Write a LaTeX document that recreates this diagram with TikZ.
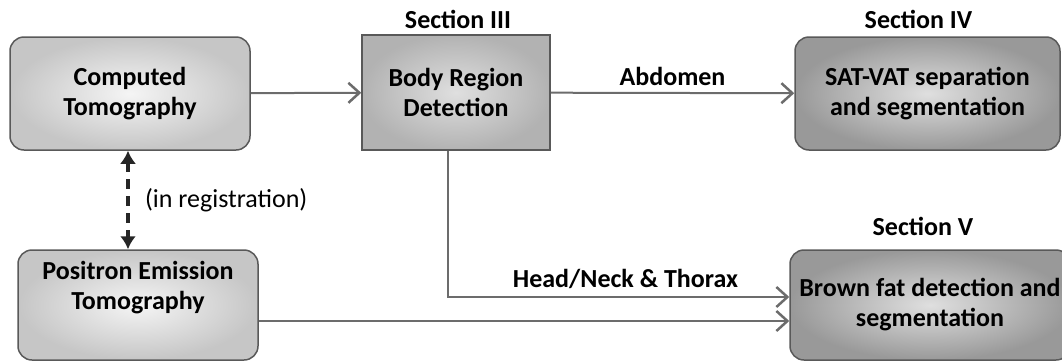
\documentclass[tikz,border=0pt]{standalone}
\usepackage{fontspec}
\setmainfont{Carlito}
\usetikzlibrary{arrows.meta}
\usetikzlibrary{positioning}

\begin{document}
\begin{tikzpicture}[
    x=1pt, y=-1pt,
    font=\fontsize{26}{30}\selectfont\bfseries,
    flow/.style={draw=gray!85!black, line width=2pt,
        -{Straight Barb[length=11pt, width=20pt, line width=2.5pt]}},
    reg/.style={draw=black!85, line width=3.5pt, dash pattern=on 10pt off 7pt,
        {Latex[length=13pt, width=16pt]}-{Latex[length=13pt, width=16pt]}},
    box/.style={rectangle, draw=gray!70!black, line width=1.5pt, align=center,
        inner sep=2pt},
    scan/.style={box, rounded corners=14pt, inner color=gray!8, outer color=gray!45},
    stage/.style={box, inner color=gray!25, outer color=gray!60},
    result/.style={box, rounded corners=14pt, inner color=gray!25, outer color=gray!80},
    ]

    \useasboundingbox (0, 0) rectangle (1062, 362);
    \clip (0, 0) rectangle (1062, 362);

    \node (ct) [scan, minimum width=240, minimum height=113] at (130, 93.5)
        {Computed\\Tomography};
    \node (pet) [scan, minimum width=240, minimum height=110, text depth=40]
        at (138, 305) {Positron Emission\\Tomography};
    \node (body) [stage, minimum width=188, minimum height=115] at (456, 92.5)
        {Body Region\\Detection};
    \node (sat) [result, minimum width=265, minimum height=113] at (927.5, 93.5)
        {SAT-VAT separation\\and segmentation};
    \node (brown) [result, minimum width=280, minimum height=110] at (930, 305)
        {Brown fat detection and\\segmentation};

    \foreach \n/\s/\d/\dx in {body/III/2pt/2pt, sat/IV/4pt/-9pt, brown/V/10pt/-7pt} {
        \node (sec-\s) [above=\d of \n, xshift=\dx] {Section \s};
    }

    \draw [flow] (ct) -- (body);
    \draw [flow] (body) -- node (abd) [above=3pt] {Abdomen} (sat);
    \draw [flow] ([xshift=-8pt]body.south) |- node (hnt) [pos=0.76, above=4pt]
        {Head/Neck \& Thorax} ([yshift=8pt]brown.west);
    \draw [flow] ([yshift=-16pt]pet.east) -- ([yshift=-16pt]brown.west);
    \draw [reg] ([xshift=-2pt]ct.south) -- node (in-reg) [right=12pt,
        font=\fontsize{26}{30}\selectfont] {(in registration)}
        ([xshift=-2pt]ct.south |- pet.north);
\end{tikzpicture}
\end{document}
